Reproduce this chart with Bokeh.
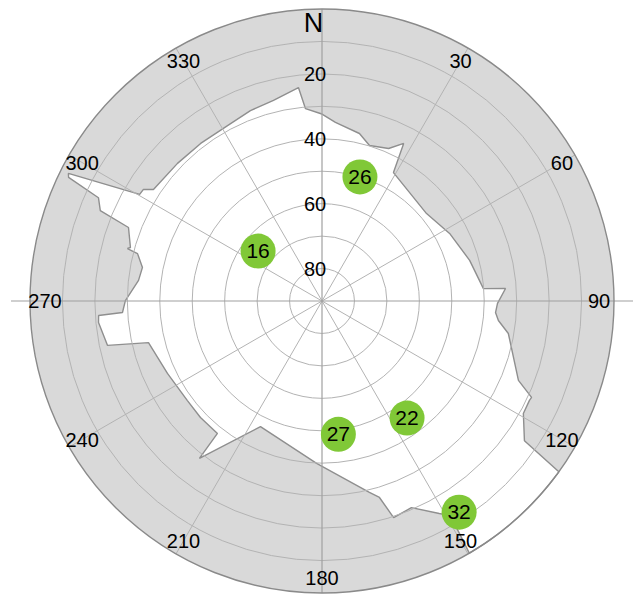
import numpy as np
from bokeh.plotting import figure
from bokeh.models import Range1d
from bokeh.core.properties import value
from bokeh.embed import file_html
from bokeh.resources import INLINE

# Satellites in view: PRN, azimuth (deg), elevation (deg)
sat_prn = ["16", "26", "27", "22", "32"]
sat_az = [308, 17, 173, 144, 147]
sat_el = [65, 50, 48.6, 45.4, 12.4]

# Horizon mask outline: azimuth (deg) and obstruction elevation (deg)
mask_az = [0.0, 4.3, 12.6, 17.0, 23.6, 27.4, 29.1, 50.1, 62.1, 74.6, 85.6, 86.1,
           90.8, 93.8, 96.3, 99.9, 112.0, 114.7, 115.6, 119.2, 124.6, 125.8,
           128, 131, 134, 137, 140, 143, 146,
           149.7, 149.1, 151.1, 156.6, 161.7, 163.7, 166.1, 181.9, 206.1, 217.9,
           218.3, 226.2, 233.5, 244.9, 256.5, 258.3, 264.5, 266.3, 266.7, 270.1,
           276.4, 280.6, 284.4, 285.1, 285.6, 290.8, 292.2, 294.8, 296.0, 296.7,
           300.3, 302.0, 303.5, 313.6, 322.4, 331.7, 339.4, 346.4, 353.7, 355.1,
           359.5]
mask_el = [32.4, 34.8, 37.1, 39.9, 38.7, 35.3, 44.7, 48.0, 45.5, 42.8, 40.1, 33.3,
           35.9, 36.4, 35.3, 31.7, 24.7, 18.9, 19.1, 18.9, 14.2, 0.0,
           0.0, 0.0, 0.0, 0.0, 0.0, 0.0, 0.0,
           0.0, 12.9, 15.2, 20.6, 19.7, 26.9, 29.2, 39.9, 46.9, 28.5,
           38.0, 38.1, 38.4, 37.4, 35.0, 22.5, 20.8, 21.0, 28.4, 29.4,
           33.1, 33.7, 31.3, 27.9, 28.7, 26.2, 16.2, 14.1, 3.1, 2.5,
           24.9, 25.1, 27.7, 28.5, 28.7, 28.6, 27.3, 26.4, 23.8, 30.5,
           32.2]

# Grid: elevation rings and azimuth spokes
ring_el = [10, 20, 30, 40, 50, 60, 70, 80]
ring_labels = ["20", "40", "60", "80"]
spoke_az = [30, 60, 120, 150, 210, 240, 300, 330]
az_label_deg = [30, 60, 90, 120, 150, 180, 210, 240, 270, 300, 330]
az_label_txt = ["30", "60", "90", "120", "150", "180", "210", "240", "270", "300", "330"]

R = 292.0  # radius of the horizon ring in screen units


def to_xy(az, el):
    az = np.radians(np.asarray(az, dtype=float))
    r = R * (90.0 - np.asarray(el, dtype=float)) / 90.0
    return r * np.sin(az), r * np.cos(az)


p = figure(width=633, height=598, output_backend="svg", toolbar_location=None,
           x_range=Range1d(-321.5, 311.5), y_range=Range1d(-297.5, 300.5),
           min_border=0, outline_line_color=None, background_fill_color="white",
           border_fill_color="white")
p.axis.visible = False
p.grid.visible = False

# obstructed sky (grey) and the visible region bounded by the mask
p.circle(x=0, y=0, radius=R, fill_color="#d9d9d9", line_color=None)
mx, my = to_xy(mask_az, mask_el)
p.patch(list(mx), list(my), fill_color="white", line_color="#8f8f8f", line_width=1.4)

# elevation rings
ring_r = [R * (90 - e) / 90 for e in ring_el]
p.circle(x=[0] * len(ring_r), y=[0] * len(ring_r), radius=ring_r,
         fill_color=None, line_color="#b3b3b3", line_width=1)

# spokes
sx, sy = to_xy(spoke_az, [0] * len(spoke_az))
p.segment(x0=[0] * len(sx), y0=[0] * len(sy), x1=list(sx), y1=list(sy),
          line_color="#b3b3b3", line_width=1)
ext = R + 19
p.segment(x0=[-ext], y0=[0], x1=[ext], y1=[0], line_color="#a0a0a0", line_width=1.2)
p.segment(x0=[0], y0=[-R], x1=[0], y1=[R], line_color="#a0a0a0", line_width=1.2)

# horizon ring
p.circle(x=0, y=0, radius=R, fill_color=None, line_color="#8a8a8a", line_width=1.4)

# elevation labels along the north spoke
lab_el = [int(t) for t in ring_labels]
ly = [R * (90 - e) / 90 for e in lab_el]
p.text(x=[-7] * len(ly), y=ly, text=ring_labels, text_align="center",
       text_baseline="middle", text_font=value("Liberation Sans"),
       text_font_size="20px", text_color="black")

# azimuth labels
ax_, ay_ = to_xy(az_label_deg, [90 - 277 / R * 90] * len(az_label_deg))
p.text(x=list(ax_), y=list(ay_), text=az_label_txt, text_align="center",
       text_baseline="middle", text_font=value("Liberation Sans"),
       text_font_size="20px", text_color="black")
p.text(x=[-8.5], y=[278.5], text=["N"], text_align="center", text_baseline="middle",
       text_font=value("Liberation Sans"), text_font_size="27px", text_color="black")

# satellites
px, py = to_xy(sat_az, sat_el)
p.scatter(x=list(px), y=list(py), size=35, marker="circle", fill_color="#80c837",
          line_color=None)
p.text(x=list(px), y=list(py), text=sat_prn, text_align="center", text_baseline="middle",
       text_font=value("Liberation Sans"), text_font_size="21px", text_color="black")

open("out.html", "w").write(file_html(p, INLINE))
